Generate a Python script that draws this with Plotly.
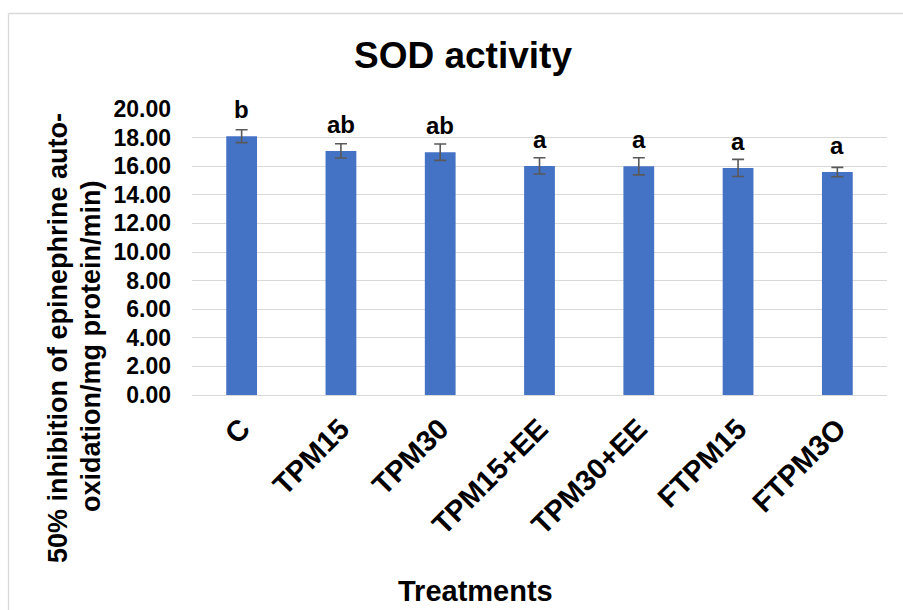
import plotly.graph_objects as go

categories = ["C", "TPM15", "TPM30", "TPM15+EE", "TPM30+EE", "FTPM15", "FTPM3O"]
values = [18.10, 17.07, 16.98, 16.02, 15.99, 15.88, 15.59]
errors = [0.45, 0.50, 0.57, 0.57, 0.60, 0.60, 0.33]
letters = ["b", "ab", "ab", "a", "a", "a", "a"]
y_ticks = [0, 2, 4, 6, 8, 10, 12, 14, 16, 18, 20]

FONT = "Arial, Liberation Sans, sans-serif"
W, H = 903, 610
L, R, T, B = 192, 16, 109, 215
PW, PH = W - L - R, H - T - B


def px_to_paper_x(px):
    return (px - L) / PW


def px_to_paper_y(py):
    return 1 - (py - T) / PH


fig = go.Figure()
fig.add_trace(go.Bar(
    x=categories,
    y=values,
    width=0.31,
    marker=dict(color="#4472C4", line=dict(width=0)),
    error_y=dict(type="data", array=errors, visible=True,
                 color="#595959", thickness=1.6, width=6),
    showlegend=False,
    hoverinfo="x+y",
))

for c, v, lt in zip(categories, values, letters):
    fig.add_annotation(x=c, y=v, text=f"<b>{lt}</b>", showarrow=False,
                       yanchor="bottom", yshift=11,
                       font=dict(family=FONT, size=24, color="#000000"))

# title
fig.add_annotation(xref="paper", yref="paper", x=px_to_paper_x(463), y=px_to_paper_y(55),
                   text="<b>SOD activity</b>", showarrow=False,
                   xanchor="center", yanchor="middle",
                   font=dict(family=FONT, size=37, color="#000000"))

# y-axis title (two lines)
fig.add_annotation(xref="paper", yref="paper", x=px_to_paper_x(58), y=px_to_paper_y(338),
                   text="<b>50% inhibition of epinephrine auto-</b>", showarrow=False,
                   textangle=-90, xanchor="center", yanchor="middle",
                   font=dict(family=FONT, size=27, color="#000000"))
fig.add_annotation(xref="paper", yref="paper", x=px_to_paper_x(91), y=px_to_paper_y(346),
                   text="<b>oxidation/mg protein/min)</b>", showarrow=False,
                   textangle=-90, xanchor="center", yanchor="middle",
                   font=dict(family=FONT, size=27, color="#000000"))

# x-axis title
fig.add_annotation(xref="paper", yref="paper", x=px_to_paper_x(475), y=px_to_paper_y(591),
                   text="<b>Treatments</b>", showarrow=False,
                   xanchor="center", yanchor="middle",
                   font=dict(family=FONT, size=29, color="#000000"))

# chart frame (left and top border)
fig.add_shape(type="line", xref="paper", yref="paper",
              x0=px_to_paper_x(8.5), x1=px_to_paper_x(8.5),
              y0=px_to_paper_y(13.5), y1=px_to_paper_y(620),
              line=dict(color="#D9D9D9", width=1.3))
fig.add_shape(type="line", xref="paper", yref="paper",
              x0=px_to_paper_x(8.5), x1=px_to_paper_x(920),
              y0=px_to_paper_y(13.5), y1=px_to_paper_y(13.5),
              line=dict(color="#D9D9D9", width=1.3))

fig.update_layout(
    width=W, height=H,
    margin=dict(l=L, r=R, t=T, b=B, pad=0),
    paper_bgcolor="white", plot_bgcolor="white",
    xaxis=dict(
        tickangle=-45,
        tickfont=dict(family=FONT, size=29, color="#000000", weight="bold"),
        showgrid=False, showline=False, zeroline=False,
        ticks="", ticklabelstandoff=10,
    ),
    yaxis=dict(
        range=[0, 20],
        tickvals=y_ticks,
        tickformat=".2f",
        tickfont=dict(family=FONT, size=23, color="#000000", weight="bold"),
        showgrid=True, gridcolor="#D9D9D9", gridwidth=1.3,
        zeroline=True, zerolinecolor="#D9D9D9", zerolinewidth=1.3,
        showline=False, ticks="", ticklabelstandoff=20,
    ),
)

fig.write_html("out.html")
